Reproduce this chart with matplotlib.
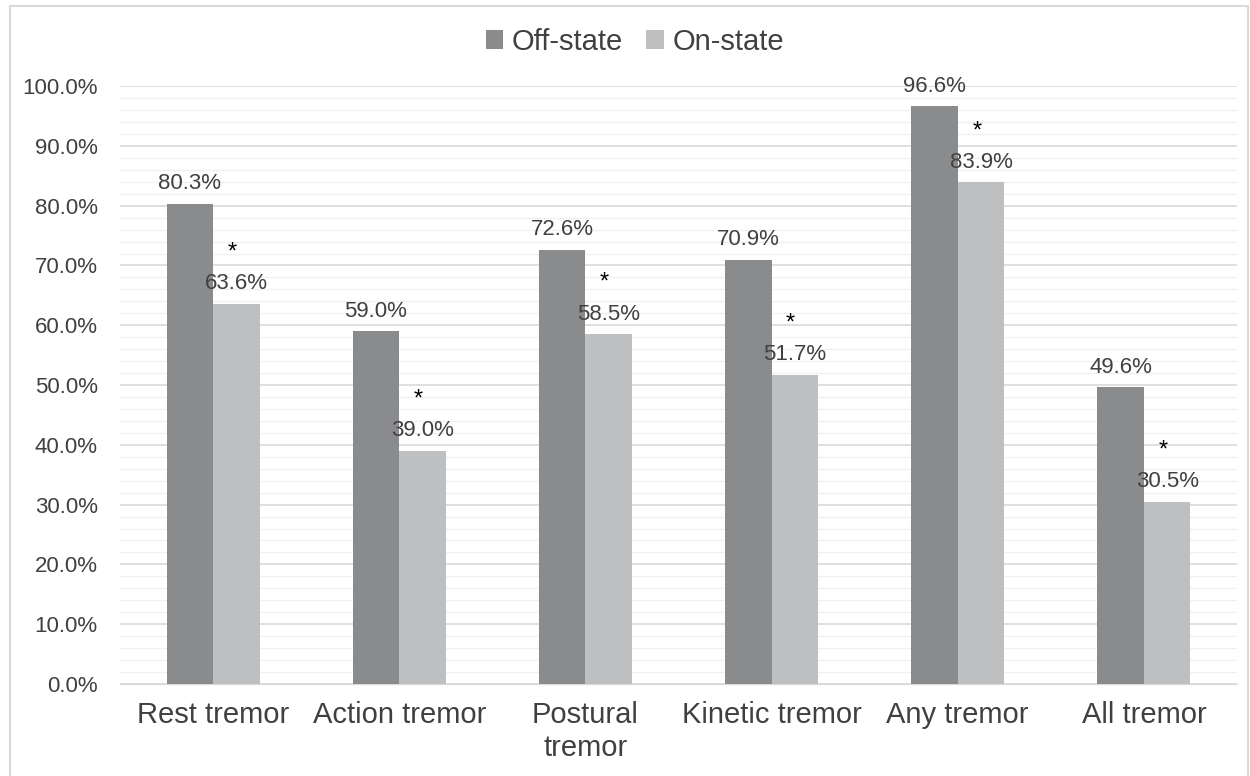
import matplotlib.pyplot as plt
import numpy as np
from matplotlib.patches import Rectangle

plt.rcParams['font.family'] = ['Liberation Sans', 'DejaVu Sans']

categories = ['Rest tremor', 'Action tremor', 'Postural\ntremor', 'Kinetic tremor', 'Any tremor', 'All tremor']
off_state = [80.3, 59.0, 72.6, 70.9, 96.6, 49.6]
on_state = [63.6, 39.0, 58.5, 51.7, 83.9, 30.5]
yticks = np.arange(0, 101, 10)

off_color = '#8a8b8d'
on_color = '#bdbfc1'
text_color = '#404040'

fig = plt.figure(figsize=(12.5, 7.76), dpi=100)
fig.patches.append(Rectangle((0.008, -0.01), 0.99, 1.002, transform=fig.transFigure,
                             fill=False, edgecolor='#d9d9d9', linewidth=1.5))
ax = fig.add_axes([0.096, 0.1186, 0.8936, 0.7704])

x = np.arange(len(categories))
w = 0.25
ax.bar(x - w / 2, off_state, w, color=off_color, label='Off-state', zorder=3)
ax.bar(x + w / 2, on_state, w, color=on_color, label='On-state', zorder=3)

for i in range(len(categories)):
    ax.annotate(f'{off_state[i]:.1f}%', (x[i] - w / 2, off_state[i]), xytext=(0, 7),
                textcoords='offset points', ha='center', va='bottom', fontsize=16, color=text_color, zorder=4)
    ax.annotate(f'{on_state[i]:.1f}%', (x[i] + w / 2, on_state[i]), xytext=(0, 7),
                textcoords='offset points', ha='center', va='bottom', fontsize=16, color=text_color, zorder=4)
    ax.annotate('*', (x[i] + w / 2, on_state[i]), xytext=(-3, 29),
                textcoords='offset points', ha='center', va='bottom', fontsize=17, color='black', zorder=4)

ax.set_xlim(-0.5, len(categories) - 0.5)
ax.set_ylim(0, 100)
ax.set_yticks(yticks)
ax.set_yticklabels([f'{v:.1f}%' for v in yticks])
ax.set_yticks(np.arange(0, 101, 2), minor=True)
ax.set_xticks(x)
ax.set_xticklabels(categories, fontsize=21, color=text_color, linespacing=1.25)
ax.tick_params(axis='y', labelsize=16, labelcolor=text_color, length=0, pad=16)
ax.tick_params(axis='y', which='minor', length=0)
ax.tick_params(axis='x', length=0, pad=12)

ax.grid(axis='y', which='major', color='#d9d9d9', linewidth=1.2, zorder=0)
ax.grid(axis='y', which='minor', color='#f0f0f0', linewidth=1.0, zorder=0)
for s in ['top', 'right', 'left']:
    ax.spines[s].set_visible(False)
ax.spines['bottom'].set_color('#d9d9d9')

fig.legend(loc='upper center', bbox_to_anchor=(0.508, 0.998), ncol=2, frameon=False, fontsize=21,
           handlelength=0.6, handleheight=0.6, handletextpad=0.3, columnspacing=0.8, labelcolor=text_color)

fig.savefig('out.png', dpi=100)
